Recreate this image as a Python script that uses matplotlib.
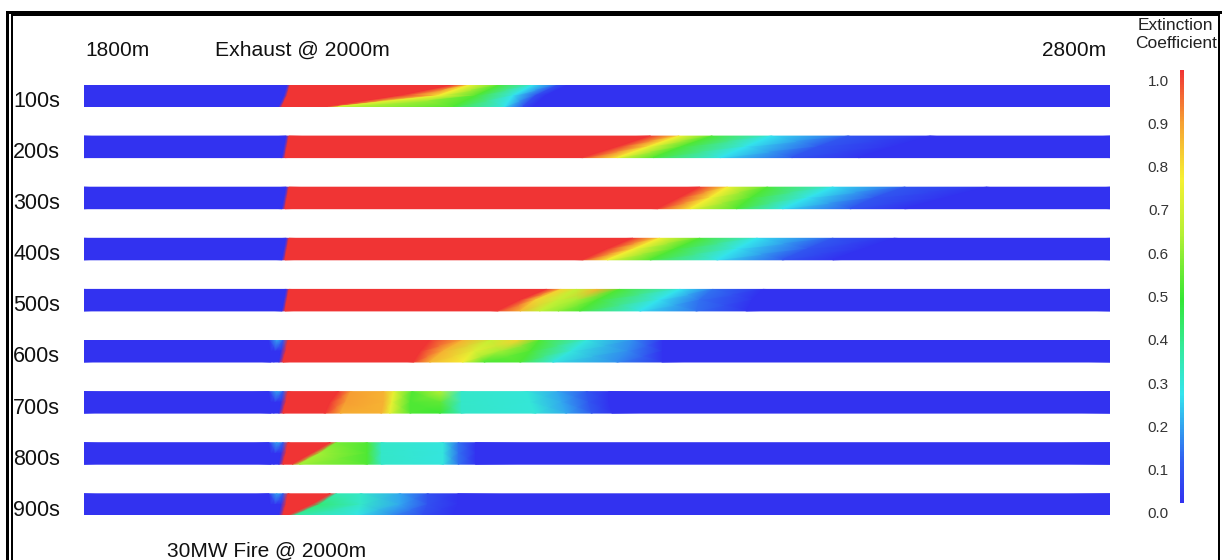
import numpy as np
import matplotlib
matplotlib.use('Agg')
import matplotlib.pyplot as plt
from matplotlib.colors import LinearSegmentedColormap
from matplotlib.lines import Line2D
from matplotlib.transforms import ScaledTranslation

plt.rcParams['font.family'] = ['Liberation Sans', 'DejaVu Sans']

# ---------------- data ----------------
times = ['100s', '200s', '300s', '400s', '500s', '600s', '700s', '800s', '900s']
pos_start, pos_end = 1800, 2800          # tunnel chainage shown (m)

# For every time: positions (m) and extinction coefficient read at the
# ceiling (top), mid-height and floor (bottom) of the tunnel section.
t100_x = [[1800, 1998, 2001, 2160, 2176, 2205, 2238, 2262, 2272, 2800],
          [1800, 1995, 1998, 2108, 2145, 2182, 2218, 2240, 2250, 2800],
          [1800, 1990, 1993, 2038, 2048, 2160, 2210, 2228, 2238, 2800]]
t100_v = [[0, 0, 1, 1, 0.75, 0.5, 0.25, 0.06, 0, 0],
          [0, 0, 1, 1, 0.75, 0.5, 0.25, 0.06, 0, 0],
          [0, 0, 1, 1, 0.68, 0.5, 0.25, 0.06, 0, 0]]

t200_x = [[1800, 1997, 2000, 2352, 2380, 2412, 2470, 2545, 2625, 2800],
          [1800, 1995, 1998, 2320, 2350, 2382, 2445, 2515, 2590, 2800],
          [1800, 1993, 1996, 2286, 2320, 2355, 2420, 2490, 2555, 2800]]
t200_v = [[0, 0, 1, 1, 0.75, 0.5, 0.25, 0.08, 0, 0],
          [0, 0, 1, 1, 0.75, 0.5, 0.25, 0.08, 0, 0],
          [0, 0, 1, 1, 0.75, 0.5, 0.25, 0.08, 0, 0]]

t300_x = [[1800, 1997, 2000, 2400, 2427, 2466, 2530, 2600, 2680, 2800],
          [1800, 1995, 1998, 2380, 2410, 2450, 2505, 2570, 2640, 2800],
          [1800, 1993, 1996, 2359, 2391, 2436, 2481, 2547, 2600, 2800]]
t300_v = [[0, 0, 1, 1, 0.75, 0.5, 0.25, 0.08, 0, 0],
          [0, 0, 1, 1, 0.75, 0.5, 0.25, 0.08, 0, 0],
          [0, 0, 1, 1, 0.75, 0.5, 0.25, 0.08, 0, 0]]

t400_x = [[1800, 1997, 2000, 2335, 2361, 2400, 2456, 2530, 2590, 2800],
          [1800, 1995, 1998, 2310, 2336, 2376, 2436, 2505, 2560, 2800],
          [1800, 1993, 1996, 2286, 2310, 2352, 2417, 2481, 2530, 2800]]
t400_v = [[0, 0, 1, 1, 0.75, 0.5, 0.25, 0.08, 0, 0],
          [0, 0, 1, 1, 0.75, 0.5, 0.25, 0.08, 0, 0],
          [0, 0, 1, 1, 0.75, 0.5, 0.25, 0.08, 0, 0]]

t500_x = [[1800, 1997, 2000, 2251, 2265, 2280, 2300, 2322, 2381, 2413, 2462, 2800],
          [1800, 1995, 1998, 2225, 2240, 2262, 2280, 2300, 2360, 2400, 2452, 2800],
          [1800, 1993, 1996, 2203, 2225, 2244, 2262, 2283, 2342, 2397, 2446, 2800]]
t500_v = [[0, 0, 1, 1, 0.8, 0.65, 0.85, 0.5, 0.25, 0.12, 0, 0],
          [0, 0, 1, 1, 0.8, 0.65, 0.6, 0.5, 0.25, 0.12, 0, 0],
          [0, 0, 1, 1, 0.85, 0.65, 0.58, 0.5, 0.25, 0.12, 0, 0]]

t600_x = [[1800, 1980, 1988, 1994, 1999, 2137, 2169, 2196, 2222, 2244, 2290, 2335, 2364, 2800],
          [1800, 1982, 1986, 1992, 1997, 2128, 2150, 2180, 2205, 2235, 2275, 2330, 2364, 2800],
          [1800, 1982, 1985, 1990, 1994, 2121, 2137, 2169, 2190, 2225, 2257, 2320, 2364, 2800]]
t600_v = [[0, 0, 0.18, 0.1, 1, 1, 0.85, 0.65, 0.8, 0.5, 0.27, 0.15, 0, 0],
          [0, 0, 0, 0, 1, 1, 0.85, 0.7, 0.6, 0.5, 0.27, 0.15, 0, 0],
          [0, 0, 0, 0, 1, 1, 0.85, 0.75, 0.5, 0.5, 0.27, 0.15, 0, 0]]

t700_x = [[1800, 1980, 1988, 1994, 1999, 2048, 2060, 2092, 2102, 2120, 2147, 2168, 2232, 2262, 2290, 2312, 2800],
          [1800, 1982, 1986, 1992, 1997, 2040, 2055, 2092, 2100, 2118, 2147, 2168, 2235, 2266, 2292, 2312, 2800],
          [1800, 1982, 1985, 1990, 1994, 2035, 2050, 2090, 2098, 2118, 2147, 2168, 2240, 2270, 2295, 2315, 2800]]
t700_v = [[0, 0, 0.18, 0.1, 1, 1, 0.88, 0.85, 0.72, 0.5, 0.62, 0.3, 0.28, 0.18, 0.08, 0, 0],
          [0, 0, 0, 0, 1, 1, 0.88, 0.85, 0.72, 0.5, 0.52, 0.3, 0.28, 0.18, 0.08, 0, 0],
          [0, 0, 0, 0, 1, 1, 0.86, 0.85, 0.72, 0.5, 0.48, 0.3, 0.28, 0.18, 0.08, 0, 0]]

t800_x = [[1800, 1980, 1988, 1994, 1999, 2040, 2046, 2076, 2090, 2150, 2165, 2182, 2800],
          [1800, 1982, 1986, 1992, 1997, 2022, 2030, 2076, 2090, 2150, 2165, 2182, 2800],
          [1800, 1982, 1985, 1990, 1994, 2003, 2010, 2076, 2090, 2150, 2165, 2182, 2800]]
t800_v = [[0, 0, 0.18, 0.1, 1, 1, 0.55, 0.5, 0.3, 0.27, 0.12, 0, 0],
          [0, 0, 0, 0, 1, 1, 0.6, 0.5, 0.3, 0.27, 0.12, 0, 0],
          [0, 0, 0, 0, 1, 1, 0.6, 0.5, 0.3, 0.27, 0.12, 0, 0]]

t900_x = [[1800, 1980, 1988, 1994, 1999, 2040, 2046, 2070, 2108, 2135, 2165, 2800],
          [1800, 1982, 1986, 1992, 1997, 2022, 2030, 2070, 2108, 2135, 2165, 2800],
          [1800, 1982, 1985, 1990, 1994, 1999, 2006, 2066, 2100, 2130, 2160, 2800]]
t900_v = [[0, 0, 0.18, 0.1, 1, 1, 0.33, 0.3, 0.18, 0.07, 0, 0],
          [0, 0, 0, 0, 1, 1, 0.4, 0.3, 0.18, 0.07, 0, 0],
          [0, 0, 0, 0, 1, 1, 0.35, 0.26, 0.15, 0.06, 0, 0]]

cb_ticks = [0.0, 0.1, 0.2, 0.3, 0.4, 0.5, 0.6, 0.7, 0.8, 0.9, 1.0]
cb_labels = ['0.0', '0.1', '0.2', '0.3', '0.4', '0.5', '0.6', '0.7', '0.8', '0.9', '1.0']

all_x = [t100_x, t200_x, t300_x, t400_x, t500_x, t600_x, t700_x, t800_x, t900_x]
all_v = [t100_v, t200_v, t300_v, t400_v, t500_v, t600_v, t700_v, t800_v, t900_v]

# ---------------- layout ----------------
W, H = 1222, 560
fig = plt.figure(figsize=(W / 100, H / 100), dpi=100)
fig.patch.set_facecolor('white')


def fx(px):
    return px / W


def fy(py):
    return 1 - py / H


cmap = LinearSegmentedColormap.from_list('ext', [
    (0.00, '#3232f0'), (0.10, '#3060f0'), (0.25, '#34e4ee'),
    (0.36, '#34ea9a'), (0.47, '#34e634'), (0.62, '#b4f034'),
    (0.75, '#f6f032'), (0.88, '#f6a032'), (1.00, '#f03434')])

spacing = 51.1
strip_h = 21.5
top0 = 85.0
n = len(times)
h = strip_h / spacing
ax_h = spacing * (n - 1) + strip_h
ax = fig.add_axes([fx(84), fy(top0 + ax_h), (1110 - 84) / W, ax_h / H])
ax.set_xlim(pos_start, pos_end)
ax.set_ylim((n - 1) + h, 0)
ax.axis('off')

txt = '#111111'
mesh = None
for i, (xs, vs) in enumerate(zip(all_x, all_v)):
    X = np.array(xs, float)
    C = np.array(vs, float)
    Y = np.array([i, i + h / 2, i + h])[:, None] * np.ones_like(X)
    mesh = ax.pcolormesh(X, Y, C, shading='gouraud', cmap=cmap,
                         vmin=0, vmax=1, antialiased=False)
    fig.text(fx(13), fy(top0 + spacing * i + strip_h + 0.5), times[i],
             ha='left', va='baseline', fontsize=15.5, color=txt)

# top / bottom annotations
fig.text(fx(85), fy(56), '1800m', ha='left', va='baseline', fontsize=15, color=txt)
fig.text(fx(215), fy(56), 'Exhaust @ 2000m', ha='left', va='baseline', fontsize=15.2, color=txt)
fig.text(fx(1106), fy(56), '2800m', ha='right', va='baseline', fontsize=15, color=txt)
fig.text(fx(167), fy(556.5), '30MW Fire @ 2000m', ha='left', va='baseline', fontsize=15, color=txt)
fig.text(fx(1175), fy(30), 'Extinction', ha='center', va='baseline', fontsize=12.5, color='#222222')
fig.text(fx(1176), fy(48), 'Coefficient', ha='center', va='baseline', fontsize=12.5, color='#222222')

# colour bar
cax = fig.add_axes([fx(1180), fy(503), 3.5 / W, 433 / H])
cb = fig.colorbar(mesh, cax=cax, ticks=cb_ticks)
cb.outline.set_visible(False)
cax.yaxis.set_ticks_position('left')
cax.set_yticklabels(cb_labels)
cax.tick_params(axis='y', length=0, pad=8, labelsize=11, labelcolor='#333333')
shift = ScaledTranslation(0, -10 / 100, fig.dpi_scale_trans)
for lbl in cax.get_yticklabels():
    lbl.set_transform(lbl.get_transform() + shift)

# double frame
px = 0.72
fig.add_artist(Line2D([fx(7.5), fx(7.5), fx(1222)], [fy(560), fy(11.5), fy(11.5)],
                      color='black', lw=3 * px, solid_joinstyle='miter'))
fig.add_artist(Line2D([fx(12), fx(12), fx(1218.5), fx(1218.5)],
                      [fy(560), fy(15), fy(15), fy(560)],
                      color='black', lw=2 * px, solid_joinstyle='miter'))

fig.savefig('out.png', dpi=100)
